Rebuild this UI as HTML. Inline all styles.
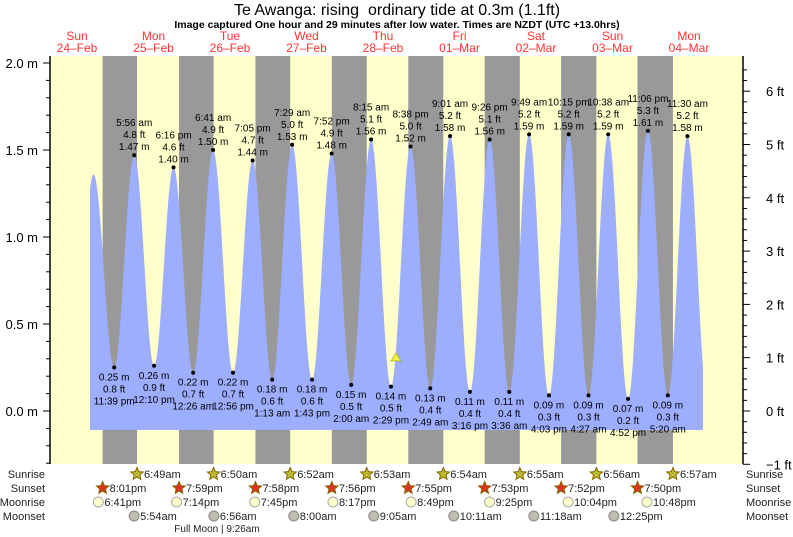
<!DOCTYPE html>
<html><head><meta charset="utf-8"><style>
body{margin:0;background:#fff;}
svg{display:block;font-family:"Liberation Sans",sans-serif;}
</style></head><body>
<svg id="s" width="793" height="537" xmlns="http://www.w3.org/2000/svg"></svg>
<script>
const S=document.getElementById('s');
let o='';
const X0=38.8,PH=3.1875;
const X=(d,h,m)=>X0+(d*24+h+m/60)*PH;
const Y=v=>411-v*174;
function T(x,y,t,sz,anc,col,w){o+=`<text x="${x}" y="${y}" font-size="${sz}" text-anchor="${anc||'middle'}" fill="${col||'#000'}"${w?' font-weight="bold"':''}>${t}</text>`;}
o+=`<rect x="50" y="56" width="693" height="408" fill="#ffffcc"/>`;
const ss=[[0,20,1],[1,19,59],[2,19,58],[3,19,56],[4,19,55],[5,19,53],[6,19,52],[7,19,50]];
const sr=[[1,6,49],[2,6,50],[3,6,52],[4,6,53],[5,6,54],[6,6,55],[7,6,56],[8,6,57]];
for(let i=0;i<8;i++){const a=X(...ss[i]),b=X(...sr[i]);o+=`<rect x="${a}" y="56" width="${b-a}" height="408" fill="#999999"/>`;}
const E=[[0,11,0,0.30,0],[0,17,10,1.36,0],[0,23,39,0.25,1],[1,5,56,1.47,1],[1,12,10,0.26,1],[1,18,16,1.40,1],[2,0,26,0.22,1],[2,6,41,1.50,1],[2,12,56,0.22,1],[2,19,5,1.44,1],[3,1,13,0.18,1],[3,7,29,1.53,1],[3,13,43,0.18,1],[3,19,52,1.48,1],[4,2,0,0.15,1],[4,8,15,1.56,1],[4,14,29,0.14,1],[4,20,38,1.52,1],[5,2,49,0.13,1],[5,9,1,1.58,1],[5,15,16,0.11,1],[5,21,26,1.56,1],[6,3,36,0.11,1],[6,9,49,1.59,1],[6,16,3,0.09,1],[6,22,15,1.59,1],[7,4,27,0.09,1],[7,10,38,1.59,1],[7,16,52,0.07,1],[7,23,6,1.61,1],[8,5,20,0.09,1],[8,11,30,1.58,1],[8,17,45,0.08,0]];
const ex=E.map(e=>X(e[0],e[1],e[2]));
function H(x){for(let i=0;i<E.length-1;i++){if(x>=ex[i]&&x<=ex[i+1]){const f=(x-ex[i])/(ex[i+1]-ex[i]);return E[i][3]+(E[i+1][3]-E[i][3])*(1-Math.cos(Math.PI*f))/2;}}return 0.3;}
let p=`M90,430`;for(let x=90;x<=703;x+=0.5)p+=` L${x},${Y(H(x)).toFixed(1)}`;p+=` L703,430 Z`;
o+=`<path d="${p}" fill="#9daeff"/>`;
function fmt(h,m){let ap=h<12?'am':'pm';let hh=h%12;if(hh==0)hh=12;return hh+':'+String(m).padStart(2,'0')+' '+ap;}
for(let i=2;i<E.length-1;i++){const e=E[i],x=ex[i],y=Y(e[3]);o+=`<circle cx="${x}" cy="${y}" r="2" fill="#000"/>`;
const ft=(e[3]*3.2808).toFixed(1)+' ft',m=e[3].toFixed(2)+' m',t=fmt(e[1],e[2]);
if(e[3]>1){T(x,y-29,t,10);T(x,y-17,ft,10);T(x,y-5,m,10);}else{T(x,y+13,m,10);T(x,y+25,ft,10);T(x,y+37,t,10);}}
o+=`<polygon points="391,361 401,361 396,353" fill="#eeee44" stroke="#aaa500" stroke-width="0.7"/>`;
o+=`<line x1="50" y1="56" x2="50" y2="464" stroke="#000" stroke-width="1.5"/><line x1="743" y1="56" x2="743" y2="464" stroke="#000" stroke-width="1.5"/>`;
for(let v=-0.3;v<=2.05;v+=0.1){const y=Y(v);if(y<56||y>464)continue;const maj=Math.abs(v*2-Math.round(v*2))<0.01;o+=`<line x1="${maj?43:46}" y1="${y}" x2="50" y2="${y}" stroke="#000"/>`;if(maj)T(38,y+5,v.toFixed(1)+' m',13,'end');}
for(let f=-1;f<=6.6;f+=0.2){const y=411-f*53.3;if(y<56||y>465)continue;const maj=Math.abs(f-Math.round(f))<0.01;o+=`<line x1="743" y1="${y}" x2="${maj?750:747}" y2="${y}" stroke="#000"/>`;if(maj)T(766,y+5,(Math.round(f)<0?'−':'')+Math.abs(Math.round(f))+' ft',13,'start');}
T(397,15,'Te Awanga: rising&#160; ordinary tide at 0.3m (1.1ft)',16);
T(397,28,'Image captured One hour and 29 minutes after low water. Times are NZDT (UTC +13.0hrs)',10.5,'middle','#000',1);
const dn=['Sun','Mon','Tue','Wed','Thu','Fri','Sat','Sun','Mon'],dd=['24-Feb','25-Feb','26-Feb','27-Feb','28-Feb','01-Mar','02-Mar','03-Mar','04-Mar'];
for(let k=0;k<9;k++){const x=77+76.5*k;T(x,40,dn[k],12,'middle','#ff3333');T(x,52,dd[k].replace('-','–'),12,'middle','#ff3333');}
[['Sunrise',478],['Sunset',492],['Moonrise',506],['Moonset',520]].forEach(r=>{T(45,r[1],r[0],11,'end','#222');T(746,r[1],r[0],11,'start','#222');});
function star(cx,cy,fill,st){let pts='';for(let i=0;i<10;i++){const a=-Math.PI/2+i*Math.PI/5,rr=i%2?3:6.5;pts+=(cx+rr*Math.cos(a)).toFixed(1)+','+(cy+rr*Math.sin(a)).toFixed(1)+' ';}o+=`<polygon points="${pts}" fill="${fill}" stroke="${st}" stroke-width="1"/>`;}
function ft2(h,m){let ap=h<12?'am':'pm';let hh=h%12;if(hh==0)hh=12;return hh+':'+String(m).padStart(2,'0')+ap;}
sr.forEach(e=>{const x=X(...e);star(x,474,'#bbbb33','#886600');T(x+7,478,ft2(e[1],e[2]),11,'start','#222');});
ss.forEach(e=>{const x=X(...e);star(x,488,'#dd3322','#886600');T(x+7,492,ft2(e[1],e[2]),11,'start','#222');});
[[0,18,41],[1,19,14],[2,19,45],[3,20,17],[4,20,49],[5,21,25],[6,22,4],[7,22,48]].forEach(e=>{const x=X(...e);o+=`<circle cx="${x}" cy="502" r="5" fill="#ffffcc" stroke="#aaa" />`;T(x+6,506,ft2(e[1],e[2]),11,'start','#222');});
[[1,5,54],[2,6,56],[3,8,0],[4,9,5],[5,10,11],[6,11,18],[7,12,25]].forEach(e=>{const x=X(...e);o+=`<circle cx="${x}" cy="516" r="5" fill="#c0bcb0" stroke="#888"/>`;T(x+6,520,ft2(e[1],e[2]),11,'start','#222');});
T(217,532,'Full Moon | 9:26am',10,'middle','#222');
S.innerHTML=o;
</script>
</body></html>
